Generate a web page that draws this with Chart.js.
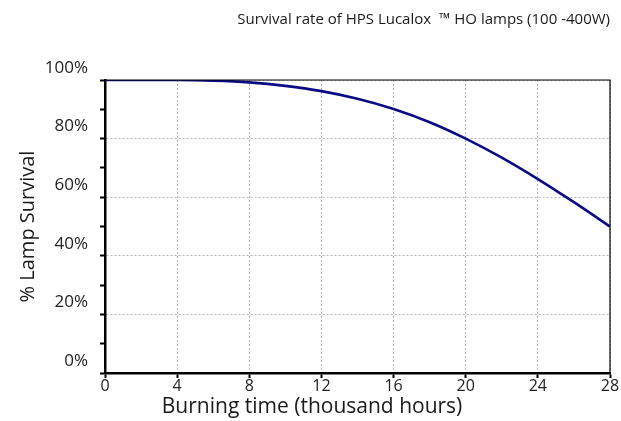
<!DOCTYPE html>
<html>
<head>
<meta charset="utf-8">
<script src="https://cdn.jsdelivr.net/npm/chart.js@4.4.1/dist/chart.umd.min.js"></script>
<style>
  html, body { margin: 0; padding: 0; background: #fff; }
  #wrap { width: 621px; height: 421px; }
</style>
</head>
<body>
<div id="wrap"><canvas id="c" width="621" height="421"></canvas></div>
<script>
// burning time in thousand hours, survival in %
const hours = [0, 2, 4, 6, 8, 10, 12, 14, 16, 18, 20, 22, 24, 26, 28];
const survival = [100, 100, 100, 99.8, 99.2, 98.0, 96.2, 93.6, 90.1, 85.6, 80.0, 73.5, 66.2, 58.3, 50.0];
const xTicks = [0, 4, 8, 12, 16, 20, 24, 28];

const FONT = "'Open Sans', 'Noto Sans', sans-serif";

// frame (thin top/right border) + x axis title drawn off-centre like the original
const extras = {
  id: 'extras',
  afterDraw(chart) {
    const { ctx, chartArea: a } = chart;
    ctx.save();
    ctx.strokeStyle = '#000';
    ctx.lineWidth = 1.2;
    ctx.beginPath();
    ctx.moveTo(a.left, a.top);
    ctx.lineTo(a.right, a.top);
    ctx.lineTo(a.right, a.bottom);
    ctx.stroke();
    ctx.fillStyle = '#1a1a1a';
    ctx.font = '21px ' + FONT;
    ctx.textAlign = 'center';
    ctx.textBaseline = 'middle';
    ctx.fillText('Burning time (thousand hours)', a.left + (a.right - a.left) * 0.41, 407);
    ctx.restore();
  }
};

new Chart(document.getElementById('c'), {
  type: 'line',
  data: {
    datasets: [{
      data: hours.map((h, i) => ({ x: h, y: survival[i] })),
      borderColor: '#0b0b85',
      borderWidth: 2.6,
      pointRadius: 0,
      cubicInterpolationMode: 'monotone',
      fill: false
    }]
  },
  options: {
    responsive: false,
    animation: false,
    layout: { padding: { left: 0, right: 11, top: 0, bottom: 0 } },
    plugins: {
      legend: { display: false },
      tooltip: { enabled: false },
      title: {
        display: true,
        text: 'Survival rate of HPS Lucalox  \u2122 HO lamps (100 -400W)',
        align: 'end',
        color: '#1a1a1a',
        font: { family: FONT, size: 15, weight: 'normal' },
        padding: { top: 11, bottom: 51 }
      }
    },
    scales: {
      x: {
        type: 'linear',
        min: 0,
        max: 28,
        afterBuildTicks: s => { s.ticks = xTicks.map(v => ({ value: v })); },
        afterFit: s => { s.height = 48; },
        ticks: {
          color: '#222',
          font: { family: FONT, size: 16 },
          padding: -1,
          maxRotation: 0
        },
        grid: {
          color: '#b4b4b4',
          lineWidth: 1,
          tickColor: '#000',
          tickLength: 5,
          tickWidth: 2
        },
        border: { color: '#000', width: 2.5, dash: [2, 2] }
      },
      y: {
        min: 0,
        max: 100,
        afterFit: s => { s.width = 105; },
        ticks: {
          stepSize: 10,
          color: '#222',
          font: { family: FONT, size: 17 },
          padding: 12,
          labelOffset: -12,
          callback: v => (v % 20 === 0 ? v + '%' : '')
        },
        grid: {
          color: c => (c.tick && c.tick.value % 20 === 0 ? '#b4b4b4' : 'rgba(0,0,0,0)'),
          lineWidth: 1,
          tickColor: '#000',
          tickLength: 5,
          tickWidth: 2
        },
        border: { color: '#000', width: 2.5, dash: [2, 2] },
        title: {
          display: true,
          text: '% Lamp Survival',
          color: '#1a1a1a',
          font: { family: FONT, size: 20 },
          padding: { top: 16, bottom: 0 }
        }
      }
    }
  },
  plugins: [extras]
});
</script>
</body>
</html>
